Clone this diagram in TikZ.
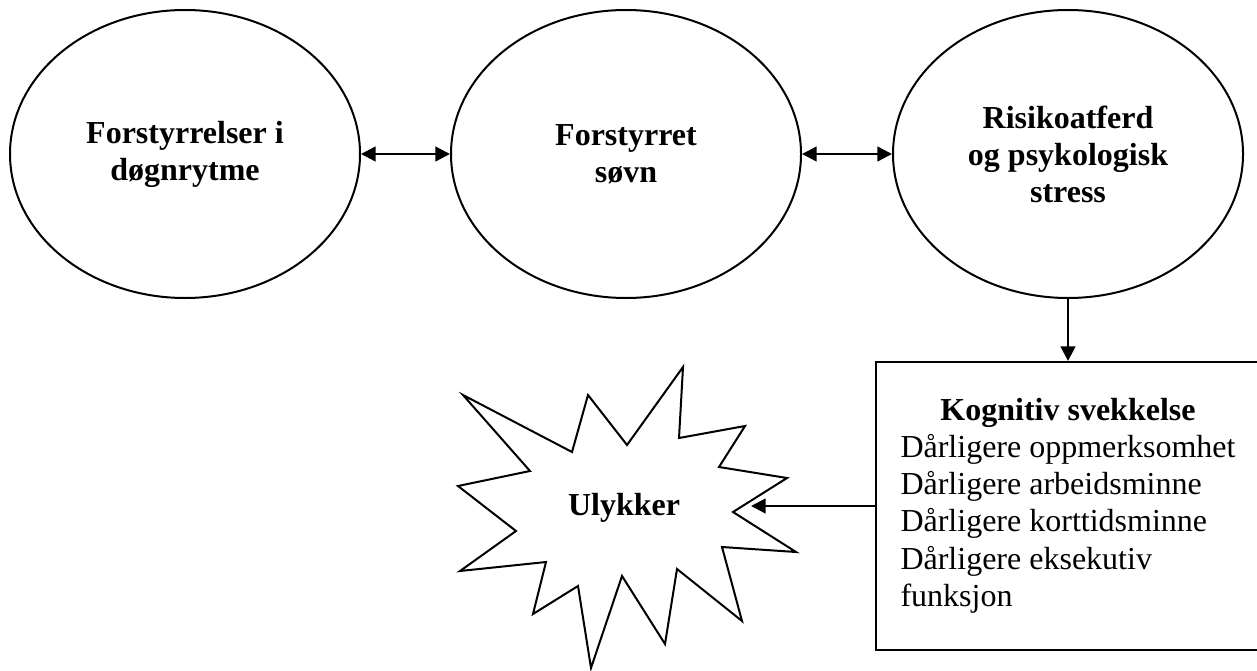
\documentclass[tikz,border=0pt]{standalone}
\usepackage{fontspec}
\setmainfont{Liberation Serif}
\usetikzlibrary{arrows.meta,shapes.geometric}

\begin{document}
\begin{tikzpicture}[x=0.375pt,y=-0.375pt,
    blob/.style={ellipse,draw=black,line width=0.75pt,minimum width=131.25pt,minimum height=108pt,
      inner sep=0pt,align=center,font=\fontsize{12}{13.9}\selectfont\bfseries},
    card/.style={rectangle,draw=black,line width=0.75pt,minimum width=144pt,minimum height=108pt,
      inner sep=0pt,font=\fontsize{12}{13.9}\selectfont},
    burst/.style={draw=black,line width=0.75pt,line join=miter},
    arr/.style={-{Triangle[length=5.5pt,width=5.5pt]},line width=0.9pt},
    both/.style={{Triangle[length=5.5pt,width=5.5pt]}-{Triangle[length=5.5pt,width=5.5pt]},line width=0.9pt}
  ]
  \useasboundingbox (0,0) rectangle (1257,670);
  \node[blob] (e1) at (185,154)  {Forstyrrelser i\\døgnrytme};
  \node[blob] (e2) at (626,154)  {Forstyrret\\søvn};
  \node[blob] (e3) at (1068,154) {Risikoatferd\\og psykologisk\\stress};
  \node[card] (cog) at (1068,506) {\begin{tabular}{@{}l@{}}
      \multicolumn{1}{@{}c@{}}{\textbf{Kognitiv svekkelse}}\\
      Dårligere oppmerksomhet\\
      Dårligere arbeidsminne\\
      Dårligere korttidsminne\\
      Dårligere eksekutiv\\
      funksjon
    \end{tabular}};
  \draw[burst] (463,395) -- (572,452) -- (588,395) -- (627,445) -- (683,367) -- (679,438)
    -- (745,426) -- (719,467) -- (787,478) -- (733,512) -- (796,552) -- (722,547)
    -- (742,621) -- (677,569) -- (665,644) -- (622,576) -- (591,668) -- (578,586)
    -- (533,614) -- (546,562) -- (460,571) -- (516,531) -- (458,486) -- (530,471) -- cycle;
  \node[font=\fontsize{12}{13.9}\selectfont\bfseries] (uly) at (624,508) {Ulykker};
  \coordinate (ulyTip) at (751,506);
  \draw[both] (e1) -- (e2);
  \draw[both] (e2) -- (e3);
  \draw[arr] (e3) -- (cog);
  \draw[arr] (cog) -- (ulyTip);
\end{tikzpicture}
\end{document}
